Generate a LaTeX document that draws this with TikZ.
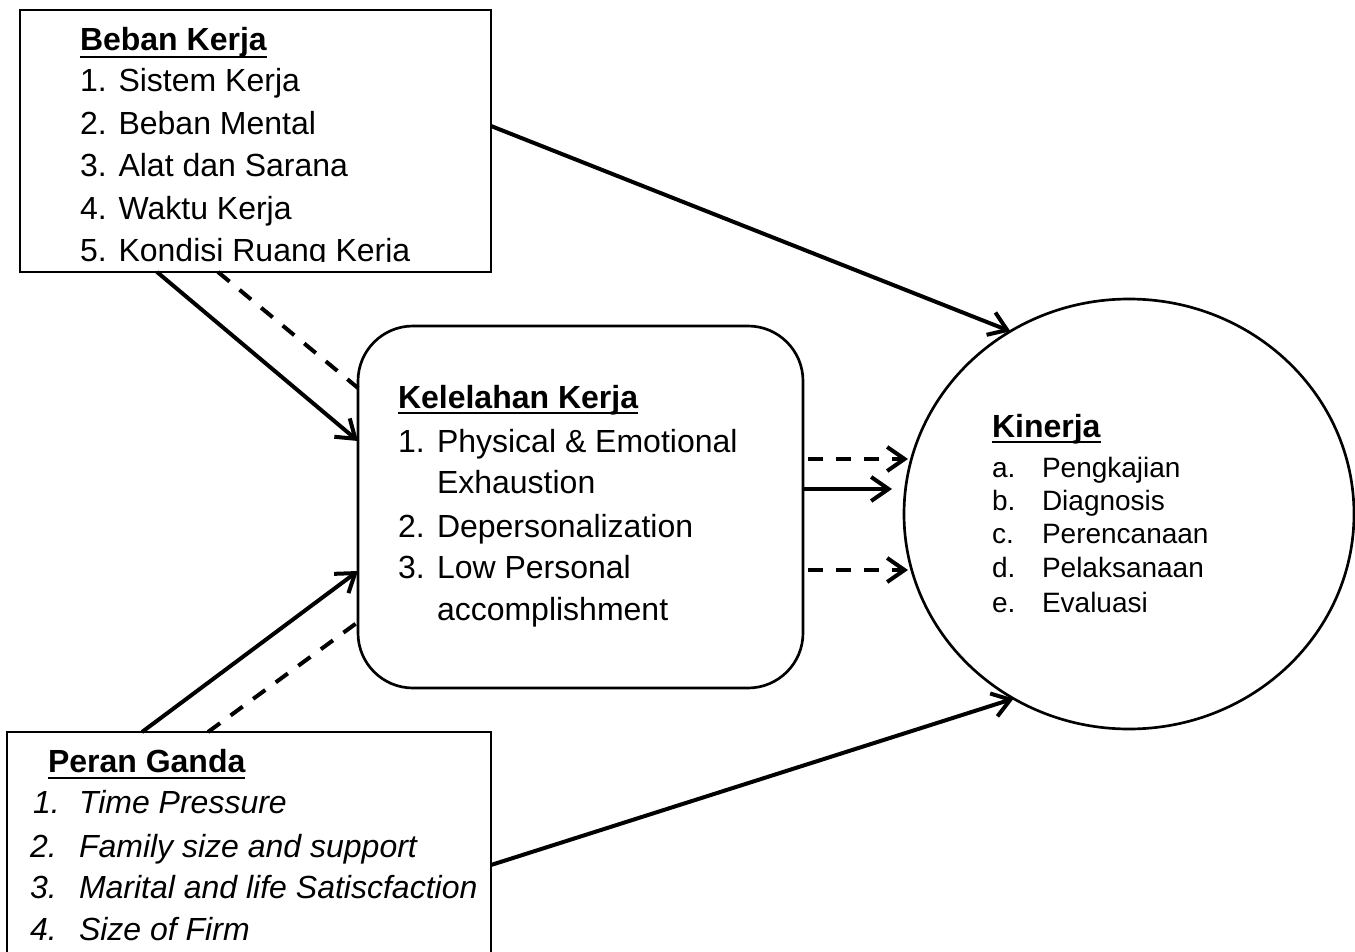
\documentclass[tikz,border=0pt]{standalone}
\usepackage{fontspec}
\setmainfont{Liberation Sans}
\usetikzlibrary{arrows.meta,shapes.geometric,calc}
\tikzset{
  txt/.style={anchor=base west, inner sep=0pt, outer sep=0pt, font=\fontsize{24pt}{28pt}\selectfont},
  head/.style={anchor=base west, inner sep=0pt, outer sep=0pt, font=\fontsize{24pt}{28pt}\selectfont\bfseries},
  itxt/.style={anchor=base west, inner sep=0pt, outer sep=0pt, font=\fontsize{24pt}{28pt}\selectfont\itshape},
  kitem/.style={anchor=base west, inner sep=0pt, outer sep=0pt, font=\fontsize{21pt}{24pt}\selectfont},
  box/.style={draw, line width=2pt, rectangle, inner sep=0pt, outer sep=0pt, anchor=north west},
  conn/.style={line width=3pt},
  arr/.style={conn, -{Straight Barb[length=13pt,width=18pt]}},
  dsh/.style={conn, dash pattern=on 11.25pt off 9.75pt},
  uline/.style={line width=1.9pt},
}
\begin{document}
\begin{tikzpicture}[x=0.75pt,y=-0.75pt]
\useasboundingbox (0,0) rectangle (1355,952);
\clip (0,0) rectangle (1355,952);
\fill[white] (0,0) rectangle (1355,952);

% shapes
\node[box, minimum width=353.25pt, minimum height=196.5pt] (beban) at (20,10) {};
\node[box, minimum width=363pt, minimum height=193.5pt] (peran) at (7,732) {};
\node[draw, line width=2pt, rounded corners=41.25pt, minimum width=333.75pt, minimum height=271.5pt, anchor=north west, inner sep=0pt, outer sep=0pt] (kel) at (358,326) {};
\node[draw, ellipse, line width=2pt, minimum width=337.5pt, minimum height=322.5pt, inner sep=0pt, outer sep=0pt] (kin) at (1129,514) {};

% Beban Kerja text (clipped by its frame)
\begin{scope}
\clip (20,10) rectangle (491,261);
\node[head] (bh) at (80,51) {Beban Kerja};
\draw[uline] ($(bh.base west)+(0,6)$) -- ($(bh.base east)+(0,6)$);
\node[txt] (b1) at (80,92) {1. Sistem Kerja};
\node[txt] (b2) at (80,134.5) {2. Beban Mental};
\node[txt] (b3) at (80,177) {3. Alat dan Sarana};
\node[txt] (b4) at (80,219.5) {4. Waktu Kerja};
\node[txt] (b5) at (80,262) {5. Kondisi Ruang Kerja};
\end{scope}

% Kelelahan Kerja text
\node[head] (kh) at (398,408) {Kelelahan Kerja};
\draw[uline] ($(kh.base west)+(0,5)$) -- ($(kh.base east)+(0,5)$);
\node[txt] (kn1) at (398,452) {1.};
\node[txt] (kt1) at (437,452) {Physical \& Emotional};
\node[txt] (kt1b) at (437,493) {Exhaustion};
\node[txt] (kn2) at (398,537) {2.};
\node[txt] (kt2) at (437,537) {Depersonalization};
\node[txt] (kn3) at (398,578) {3.};
\node[txt] (kt3) at (437,578) {Low Personal};
\node[txt] (kt3b) at (437,620) {accomplishment};

% Kinerja text
\node[head] (ih) at (992,437) {Kinerja};
\draw[uline] ($(ih.base west)+(0,5)$) -- ($(ih.base east)+(0,5)$);
\node[kitem] (ia) at (992,477) {a.};
\node[kitem] (iat) at (1042,477) {Pengkajian};
\node[kitem] (ib) at (992,510) {b.};
\node[kitem] (ibt) at (1042,510) {Diagnosis};
\node[kitem] (ic) at (992,543) {c.};
\node[kitem] (ict) at (1042,543) {Perencanaan};
\node[kitem] (id) at (992,577) {d.};
\node[kitem] (idt) at (1042,577) {Pelaksanaan};
\node[kitem] (ie) at (992,612) {e.};
\node[kitem] (iet) at (1042,612) {Evaluasi};

% Peran Ganda text
\node[head] (ph) at (48,772) {Peran Ganda};
\draw[uline] ($(ph.base west)+(0,6)$) -- ($(ph.base east)+(0,6)$);
\node[itxt] (pn1) at (33,813) {1.};
\node[itxt] (pt1) at (79,813) {Time Pressure};
\node[itxt] (pn2) at (30,857) {2.};
\node[itxt] (pt2) at (79,857) {Family size and support};
\node[itxt] (pn3) at (30,898) {3.};
\node[itxt] (pt3) at (79,898) {Marital and life Satiscfaction};
\node[itxt] (pn4) at (30,940) {4.};
\node[itxt] (pt4) at (79,940) {Size of Firm};

% connectors
\draw[arr] ($(beban.east)+(0,-15)$) -- (kin.123);
\draw[arr] ($(beban.south west)+(137,0)$) -- ($(kel.north west)+(0,115)$);
\draw[dsh] ($(beban.south west)+(198,0)$) -- ($(kel.north west)+(0,62)$);
\draw[arr] ($(peran.north west)+(135,0)$) -- ($(kel.north west)+(0,245)$);
\draw[dsh] ($(peran.north west)+(201,0)$) -- ($(kel.north west)+(0,296)$);
\draw[arr,dsh] ($(kel.east)+(5,-48)$) -- ($(kin.west)+(4,-55)$);
\draw[arr] ($(kel.east)+(0,-18)$) -- ($(kin.west)+(-12,-25)$);
\draw[arr,dsh] ($(kel.east)+(5,63)$) -- ($(kin.west)+(4,56)$);
\draw[arr] ($(peran.north east)+(0,133)$) -- (kin.238);
\end{tikzpicture}
\end{document}
